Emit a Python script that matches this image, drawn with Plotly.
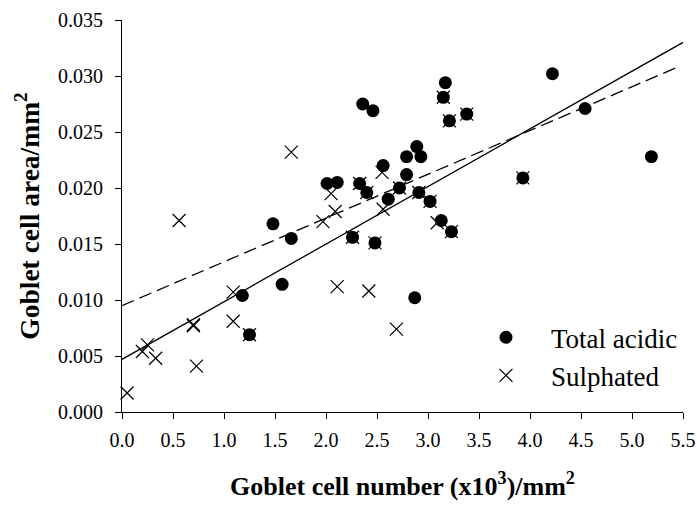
import plotly.graph_objects as go

# Total acidic (filled circles)
acid_x = [1.18, 1.25, 1.48, 1.57, 1.66, 2.01, 2.11, 2.26, 2.33, 2.36, 2.40, 2.46, 2.48,
          2.56, 2.61, 2.72, 2.79, 2.79, 2.87, 2.89, 2.93, 2.91, 3.02, 3.13, 3.15, 3.17,
          3.23, 3.21, 3.38, 3.93, 4.22, 4.54, 5.19]
acid_y = [0.0104, 0.0069, 0.0168, 0.0114, 0.0155, 0.0204, 0.0205, 0.0156, 0.0204, 0.0275,
          0.0196, 0.0269, 0.0151, 0.0220, 0.0190, 0.0200, 0.0212, 0.0228, 0.0102, 0.0237,
          0.0228, 0.0196, 0.0188, 0.0171, 0.0281, 0.0294, 0.0161, 0.0260, 0.0266, 0.0209,
          0.0302, 0.0271, 0.0228]

# Sulphated (crosses)
sulph_x = [0.05, 0.20, 0.25, 0.33, 0.56, 0.70, 0.70, 0.73, 1.09, 1.09, 1.66, 1.97, 2.05,
           2.09, 2.11, 2.42, 2.55, 2.56, 2.69, 1.25, 2.26, 2.48, 2.33, 2.40, 2.72, 2.91,
           3.02, 3.09, 3.23, 3.15, 3.21, 3.38, 3.93]
sulph_y = [0.0017, 0.0054, 0.0060, 0.0048, 0.0171, 0.0078, 0.0077, 0.0041, 0.0107, 0.0081,
           0.0232, 0.0170, 0.0195, 0.0179, 0.0112, 0.0108, 0.0214, 0.0181, 0.0074, 0.0069,
           0.0156, 0.0151, 0.0204, 0.0196, 0.0200, 0.0196, 0.0188, 0.0169, 0.0161, 0.0281,
           0.0260, 0.0266, 0.0209]

# Regression lines (end points)
acid_fit_x = [0.0, 5.45]
acid_fit_y = [0.0095, 0.0308]
sulph_fit_x = [0.0, 5.5]
sulph_fit_y = [0.0047, 0.0330]

x_ticks = [0.0, 0.5, 1.0, 1.5, 2.0, 2.5, 3.0, 3.5, 4.0, 4.5, 5.0, 5.5]
y_ticks = [0.000, 0.005, 0.010, 0.015, 0.020, 0.025, 0.030, 0.035]

FONT = "Liberation Serif, Times New Roman, serif"

fig = go.Figure()
fig.add_trace(go.Scatter(x=sulph_fit_x, y=sulph_fit_y, mode="lines",
                         line=dict(color="black", width=1.3), showlegend=False, hoverinfo="skip"))
fig.add_trace(go.Scatter(x=acid_fit_x, y=acid_fit_y, mode="lines",
                         line=dict(color="black", width=1.3, dash="13px,6px"),
                         showlegend=False, hoverinfo="skip"))
fig.add_trace(go.Scatter(x=sulph_x, y=sulph_y, mode="markers", name="Sulphated",
                         marker=dict(symbol="x-thin-open", size=13, color="black",
                                     line=dict(color="black", width=1.2)),
                         cliponaxis=False, legendrank=2))
fig.add_trace(go.Scatter(x=acid_x, y=acid_y, mode="markers", name="Total acidic",
                         marker=dict(symbol="circle", size=13, color="black",
                                     line=dict(width=0)),
                         cliponaxis=False, legendrank=1))

fig.update_layout(
    width=697, height=506,
    margin=dict(l=122, r=14, t=20, b=94),
    paper_bgcolor="white", plot_bgcolor="white",
    font=dict(family=FONT, color="black", size=20),
    showlegend=True,
    legend=dict(x=1.0, y=0.252, xanchor="right", yanchor="top",
                font=dict(family=FONT, size=27, color="black"),
                bgcolor="rgba(0,0,0,0)", itemwidth=80, tracegroupgap=0),
    xaxis=dict(range=[0, 5.5], tickvals=x_ticks, tickformat=".1f", automargin=False,
               showgrid=False, zeroline=False, showline=True, linecolor="black", linewidth=1.2,
               ticks="outside", ticklen=6, tickcolor="black", tickwidth=1.2,
               tickfont=dict(family=FONT, size=20), ticklabelstandoff=4,
               title=dict(text="<b>Goblet cell number (x10<sup>3</sup>)/mm<sup>2</sup></b>",
                          font=dict(family=FONT, size=26), standoff=26)),
    yaxis=dict(range=[0, 0.035], tickvals=y_ticks, tickformat=".3f", automargin=False,
               showgrid=False, zeroline=False, showline=True, linecolor="black", linewidth=1.2,
               ticks="outside", ticklen=6, tickcolor="black", tickwidth=1.2,
               tickfont=dict(family=FONT, size=20), ticklabelstandoff=8,
               title=dict(text="<b>Goblet cell area/mm<sup>2</sup></b>",
                          font=dict(family=FONT, size=27.5), standoff=10)),
)

fig.write_html("out.html")
